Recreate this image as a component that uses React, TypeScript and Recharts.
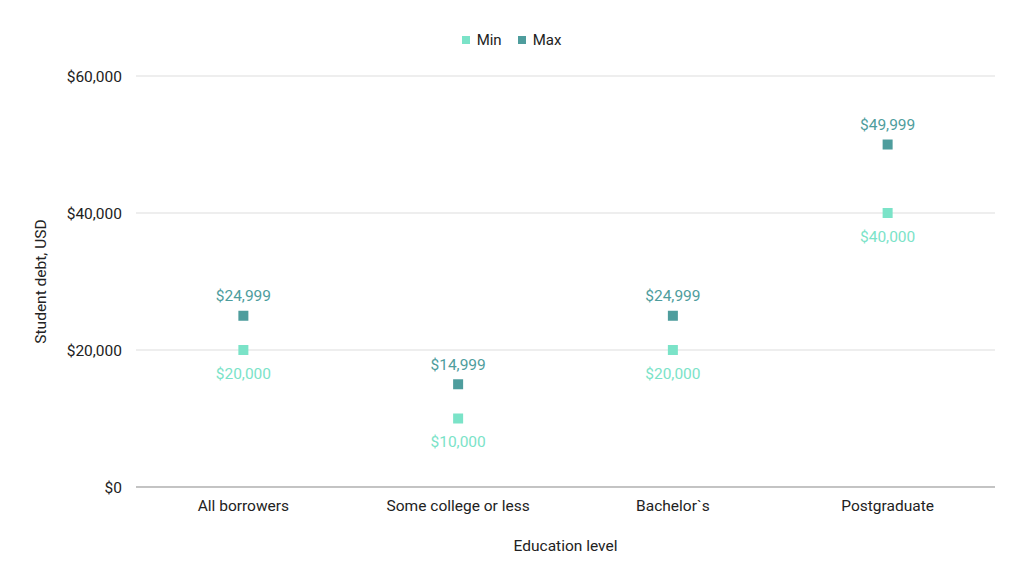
import React from 'react'
import {
  ComposedChart,
  Scatter,
  XAxis,
  YAxis,
  CartesianGrid,
  Legend,
  LabelList,
} from 'recharts'

const categories = ['All borrowers', 'Some college or less', 'Bachelor`s', 'Postgraduate']
const minValues = [20000, 10000, 20000, 40000]
const maxValues = [24999, 14999, 24999, 49999]
const yTicks = [0, 20000, 40000, 60000]

const MIN_COLOR = '#7be3c8'
const MAX_COLOR = '#4e9d9d'
const FONT = 'Roboto, "Noto Sans", sans-serif'

const data = categories.map((name, i) => ({ name, min: minValues[i], max: maxValues[i] }))

const fmt = (v: number) => `$${v.toLocaleString('en-US')}`

const square = (color: string) => (props: any) => {
  const { cx, cy } = props
  return <rect x={cx - 5} y={cy - 5} width={10} height={10} fill={color} />
}

// legend kept in series order: Min, Max
const legendItems = [
  { label: 'Min', color: MIN_COLOR },
  { label: 'Max', color: MAX_COLOR },
]

const LegendContent = () => (
  <div style={{ display: 'flex', justifyContent: 'center', gap: 16, fontSize: 15, color: '#222', fontFamily: FONT, paddingLeft: 8 }}>
    {legendItems.map((it) => (
      <span key={it.label} style={{ display: 'flex', alignItems: 'center' }}>
        <span style={{ width: 8, height: 8, background: it.color, display: 'inline-block', marginRight: 7 }} />
        {it.label}
      </span>
    ))}
  </div>
)

export default function App() {
  return (
    <div style={{ position: 'absolute', left: 0, top: 0, width: 1024, height: 585, background: '#fff', fontFamily: FONT }}>
      <ComposedChart
        width={1024}
        height={585}
        data={data}
        margin={{ top: 58, right: 29, left: 20, bottom: 20 }}
      >
        <CartesianGrid vertical={false} stroke="#dddddd" />
        <XAxis
          dataKey="name"
          type="category"
          scale="band"
          height={78}
          axisLine={{ stroke: '#999999' }}
          tickLine={false}
          tick={{ fontSize: 15.5, fill: '#222', fontFamily: FONT }}
          tickMargin={7}
          label={{ value: 'Education level', position: 'insideBottom', offset: 14, fontSize: 15.5, fill: '#222', fontFamily: FONT }}
        />
        <YAxis
          width={116}
          domain={[0, 60000]}
          ticks={yTicks}
          tickFormatter={fmt}
          axisLine={false}
          tickLine={false}
          tickMargin={8}
          tick={{ fontSize: 15.5, fill: '#222', fontFamily: FONT }}
          label={{ value: 'Student debt, USD', angle: -90, position: 'insideLeft', offset: 20, fontSize: 15.5, fill: '#222', fontFamily: FONT, style: { textAnchor: 'middle' } }}
        />
        <Legend
          verticalAlign="top"
          align="center"
          content={<LegendContent />}
          wrapperStyle={{ top: 31 }}
        />
        <Scatter name="Min" dataKey="min" fill={MIN_COLOR} shape={square(MIN_COLOR)} isAnimationActive={false}>
          <LabelList dataKey="min" position="bottom" offset={13} formatter={fmt} fill={MIN_COLOR} fontSize={15.5} fontFamily={FONT} />
        </Scatter>
        <Scatter name="Max" dataKey="max" fill={MAX_COLOR} shape={square(MAX_COLOR)} isAnimationActive={false}>
          <LabelList dataKey="max" position="top" offset={10} formatter={fmt} fill={MAX_COLOR} fontSize={15.5} fontFamily={FONT} />
        </Scatter>
      </ComposedChart>
    </div>
  )
}
